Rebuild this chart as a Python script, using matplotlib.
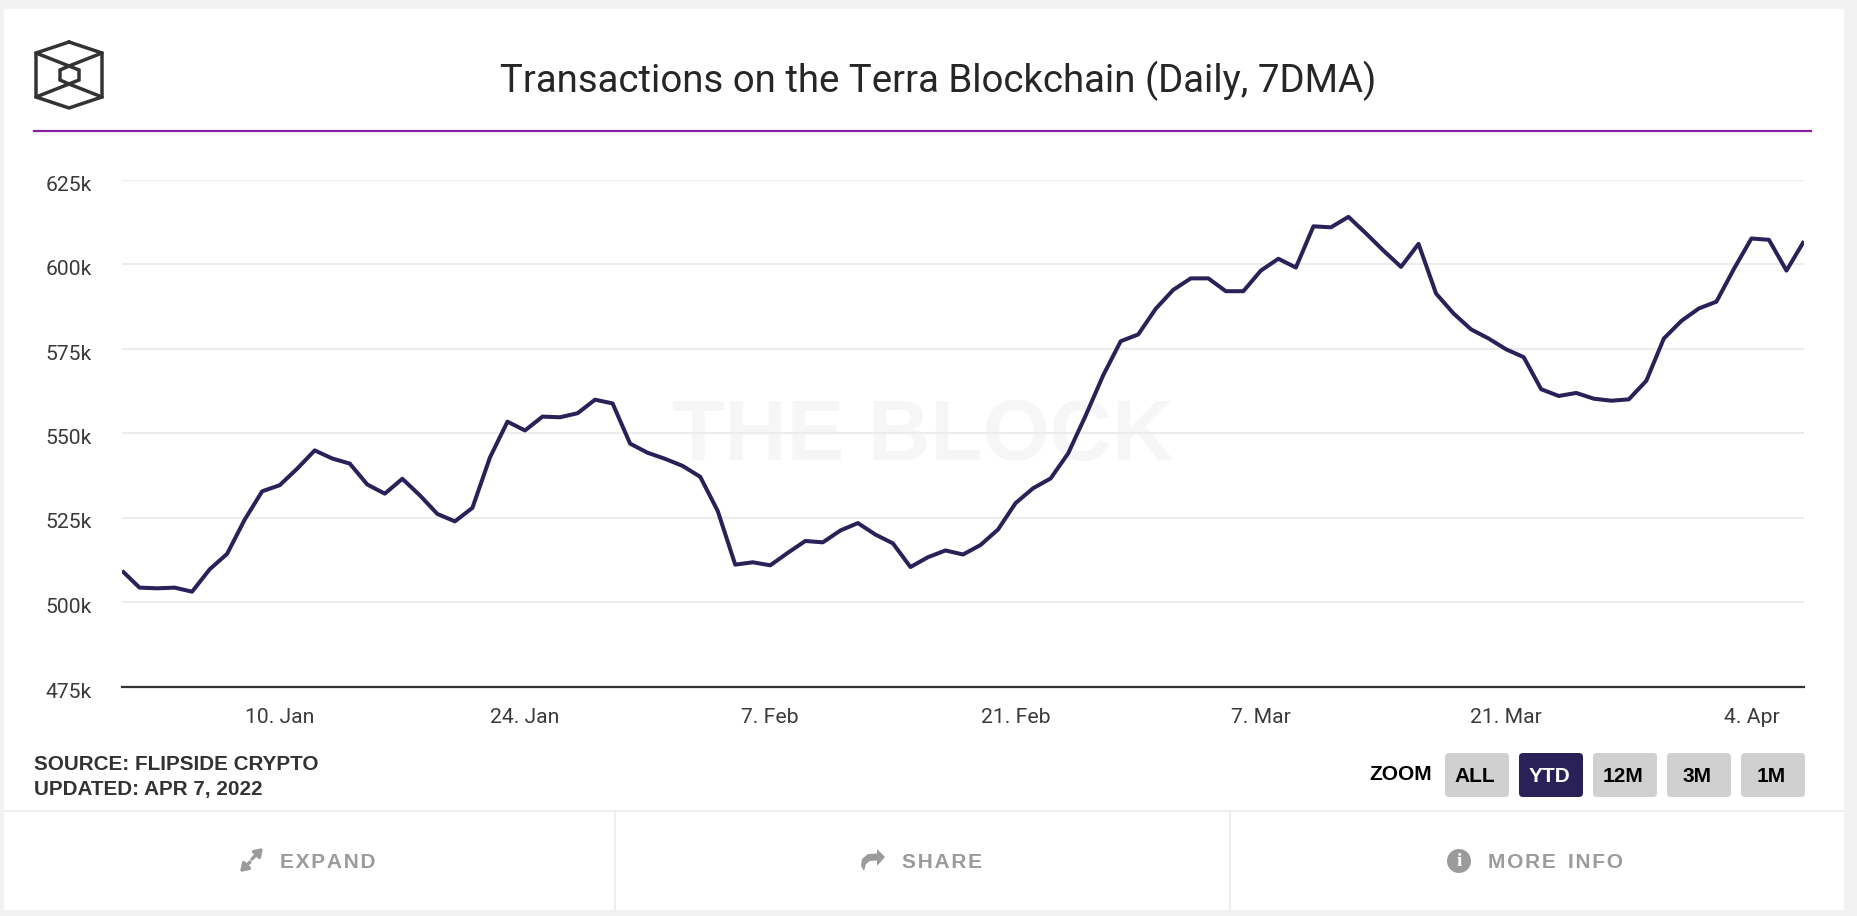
import pandas as pd
import matplotlib
matplotlib.use('Agg')
import matplotlib.pyplot as plt
import matplotlib.dates as mdates
from matplotlib.patches import FancyBboxPatch, Rectangle, Polygon, Circle
from matplotlib.transforms import ScaledTranslation

W, H = 1858, 916

# daily values, 1 Jan .. 7 Apr 2022 (thousands of transactions)
dates = pd.date_range('2022-01-01', '2022-04-07', freq='D')
jan_values = [509.4, 504.4, 504.2, 504.4, 503.2, 509.8, 514.4, 524.5, 532.9, 534.7,
              539.6, 545.0, 542.6, 541.1, 534.9, 532.2, 536.6, 531.7, 526.2, 524.0,
              528.0, 542.9, 553.5, 550.9, 555.0, 554.8, 556.0, 560.0, 558.9, 547.0,
              544.3]
feb_values = [542.5, 540.4, 537.2, 527.1, 511.2, 511.9, 511.0, 514.7, 518.2, 517.8,
              521.3, 523.5, 520.1, 517.5, 510.5, 513.4, 515.4, 514.2, 517.0, 521.6,
              529.4, 533.8, 536.7, 544.1, 555.3, 567.2, 577.3, 579.3]
mar_values = [586.9, 592.5, 595.9, 595.9, 592.1, 592.1, 598.2, 601.7, 599.1, 611.3,
              611.0, 614.1, 609.2, 604.1, 599.3, 606.1, 591.4, 585.5, 580.8, 578.1,
              574.9, 572.6, 563.1, 561.1, 562.0, 560.3, 559.7, 560.1, 565.6, 578.1,
              583.3]
apr_values = [587.0, 589.0, 598.7, 607.7, 607.3, 598.2, 606.9]
values = jan_values + feb_values + mar_values + apr_values

y_ticks = [475, 500, 525, 550, 575, 600, 625]
y_labels = ['475k', '500k', '525k', '550k', '575k', '600k', '625k']
x_ticks = ['2022-01-10', '2022-01-24', '2022-02-07', '2022-02-21', '2022-03-07', '2022-03-21', '2022-04-04']
x_labels = ['10. Jan', '24. Jan', '7. Feb', '21. Feb', '7. Mar', '21. Mar', '4. Apr']
zoom_buttons = ['ALL', 'YTD', '12M', '3M', '1M']

ROBOTO = ['Roboto', 'DejaVu Sans']
HELV = ['Liberation Sans', 'DejaVu Sans']
NAVY = '#2a2158'

fig = plt.figure(figsize=(W / 100, H / 100), dpi=100, facecolor='#f2f2f2')

# page furniture drawn in pixel coordinates
bg = fig.add_axes([0, 0, 1, 1], zorder=0)
bg.set_xlim(0, W)
bg.set_ylim(H, 0)
bg.axis('off')
bg.add_patch(Rectangle((4, 9), 1840, 901, fc='white', ec='none'))
bg.plot([4, 1844], [811, 811], color='#efefef', lw=1.5)
bg.plot([615, 615], [811, 910], color='#efefef', lw=1.5)
bg.plot([1230, 1230], [811, 910], color='#efefef', lw=1.5)
bg.plot([34, 1811], [131, 131], color='#86209c', lw=1.6)

# logo
logo = dict(color='#333333', lw=2.5, solid_joinstyle='miter', solid_capstyle='round')
bg.plot([69, 102, 102, 69, 36, 36, 69], [42, 53, 97, 108, 97, 53, 42], **logo)
bg.plot([36, 69], [53, 66], **logo)
bg.plot([102, 69], [53, 66], **logo)
bg.plot([36, 69], [97, 84], **logo)
bg.plot([102, 69], [97, 84], **logo)
bg.plot([69, 79, 79, 69, 60, 60, 69], [66, 70, 80, 84, 80, 70, 66], **logo)

bg.text(938.5, 92, 'Transactions on the Terra Blockchain (Daily, 7DMA)', fontsize=27.6,
        family=ROBOTO, color='#262626', ha='center', va='baseline')
bg.text(34, 765, 'SOURCE: FLIPSIDE CRYPTO', fontsize=14.9, family=HELV, weight='bold',
        color='#333333', va='center')
bg.text(34, 789, 'UPDATED: APR 7, 2022', fontsize=14.9, family=HELV, weight='bold',
        color='#333333', va='center')
bg.text(1401, 774, 'ZOOM', fontsize=15, family=HELV, weight='bold', color='black',
        ha='center', va='center')

for i, label in enumerate(zoom_buttons):
    x0 = 1445 + 74 * i
    active = label == 'YTD'
    bg.add_patch(FancyBboxPatch((x0 + 3, 756), 58, 38, boxstyle='round,pad=3,rounding_size=4',
                                fc=NAVY if active else '#d0d0d0', ec='none'))
    bg.text(x0 + 30, 776, label, fontsize=15, family=HELV, weight='bold',
            color='white' if active else 'black', ha='center', va='center')

# footer buttons
grey = '#9b9b9b'
footer = dict(fontsize=15, family=HELV, weight='bold', color=grey, va='center')
bg.text(280, 862, '\u200a'.join('EXPAND'), **footer)
bg.text(902, 862, '\u200a'.join('SHARE'), **footer)
bg.text(1488, 862, '\u200a'.join('MORE'), **footer)
bg.text(1568, 862, '\u200a'.join('INFO'), **footer)
arrow = dict(arrowstyle='-|>,head_length=0.45,head_width=0.3', color=grey, lw=2.4, shrinkA=0, shrinkB=0)
bg.annotate('', xy=(263, 848), xytext=(252, 859), arrowprops=arrow)
bg.annotate('', xy=(240, 872), xytext=(250, 862), arrowprops=arrow)
bg.add_patch(Polygon([(885, 857), (877, 849), (877, 853.5), (868, 854), (862, 859), (861, 866),
                      (864, 871), (866, 864), (870, 861), (877, 860.5), (877, 866)], fc=grey, ec='none'))
bg.add_patch(Circle((1459, 861), 12, fc=grey, ec='none'))
bg.text(1459, 861, 'i', fontsize=14, family=['Liberation Serif', 'DejaVu Serif'], weight='bold',
        color='white', ha='center', va='center')

# chart
ax = fig.add_axes([122 / W, 1 - 687 / H, (1804 - 122) / W, (687 - 180) / H], zorder=1)
ax.patch.set_alpha(0)
ax.grid(axis='y', color='#ececec', lw=1.5)
ax.set_axisbelow(True)
bg.text(923, 460, 'THE BLOCK', fontsize=62, family=HELV, weight='bold', color='black', alpha=0.035,
        ha='center', va='baseline', zorder=5)
ax.plot(dates, values, color=NAVY, lw=2.9, solid_joinstyle='round', solid_capstyle='butt')

ax.set_xlim(dates[0], dates[-1])
ax.set_ylim(475, 625)
ax.set_yticks(y_ticks)
ax.set_yticklabels(y_labels, fontsize=15.2, family=ROBOTO, color='#3a3a3a')
ax.set_xticks(mdates.date2num(pd.to_datetime(x_ticks)))
ax.set_xticklabels(x_labels, fontsize=15.2, family=ROBOTO, color='#3a3a3a')
ax.tick_params(axis='both', length=0)
ax.tick_params(axis='y', pad=21.5)
ax.tick_params(axis='x', pad=15)
# labels sit a few pixels under their gridline
shift = ScaledTranslation(0, -3 / 100, fig.dpi_scale_trans)
for label in ax.get_yticklabels():
    label.set_transform(label.get_transform() + shift)
for side in ['top', 'left', 'right']:
    ax.spines[side].set_visible(False)
ax.spines['bottom'].set_color('#333333')
ax.spines['bottom'].set_linewidth(1.6)

fig.savefig('out.png', dpi=100)
